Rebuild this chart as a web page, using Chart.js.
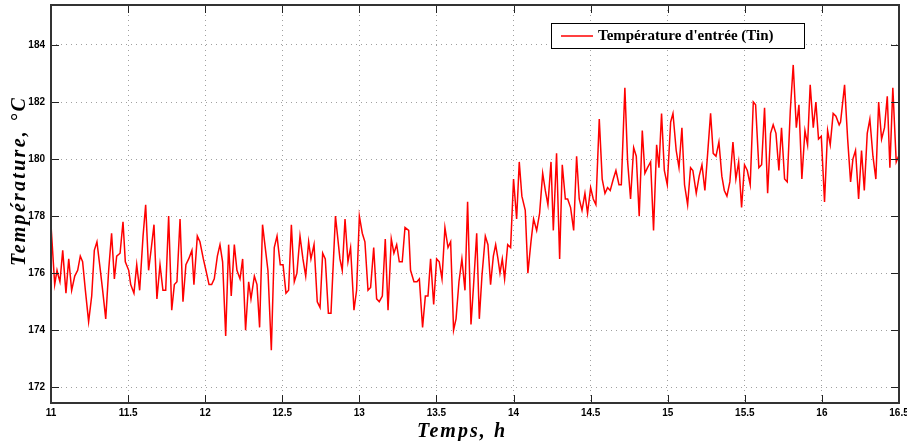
<!DOCTYPE html>
<html>
<head>
<meta charset="utf-8">
<script src="https://cdn.jsdelivr.net/npm/chart.js@4/dist/chart.umd.min.js"></script>
<style>
  html, body { margin: 0; padding: 0; background: #fff; }
  #box { width: 907px; height: 441px; }
</style>
</head>
<body>
<div id="box"><canvas id="graphe"></canvas></div>
<script>
// temps (h) et température d'entrée (°C)
const temps = [
  11.000, 11.024, 11.039, 11.048, 11.058, 11.076, 11.097, 11.115, 11.134, 11.154,
  11.173, 11.190, 11.205, 11.223, 11.244, 11.264, 11.281, 11.298, 11.320, 11.335,
  11.355, 11.374, 11.393, 11.411, 11.426, 11.448, 11.467, 11.482, 11.504, 11.517,
  11.538, 11.556, 11.575, 11.597, 11.614, 11.633, 11.651, 11.668, 11.687, 11.707,
  11.726, 11.744, 11.763, 11.783, 11.800, 11.817, 11.837, 11.856, 11.875, 11.893,
  11.914, 11.927, 11.949, 11.966, 11.988, 12.005, 12.025, 12.042, 12.059, 12.079,
  12.096, 12.113, 12.133, 12.152, 12.169, 12.189, 12.206, 12.226, 12.243, 12.262,
  12.282, 12.297, 12.319, 12.336, 12.353, 12.372, 12.407, 12.429, 12.448, 12.466,
  12.487, 12.505, 12.524, 12.541, 12.559, 12.578, 12.595, 12.615, 12.634, 12.652,
  12.671, 12.686, 12.706, 12.727, 12.745, 12.762, 12.779, 12.799, 12.816, 12.845,
  12.874, 12.889, 12.907, 12.926, 12.943, 12.965, 12.982, 13.000, 13.019, 13.036,
  13.056, 13.073, 13.093, 13.112, 13.129, 13.149, 13.168, 13.186, 13.207, 13.224,
  13.242, 13.259, 13.278, 13.296, 13.320, 13.332, 13.354, 13.374, 13.389, 13.410,
  13.428, 13.445, 13.462, 13.482, 13.501, 13.518, 13.536, 13.555, 13.575, 13.592,
  13.611, 13.627, 13.646, 13.665, 13.685, 13.702, 13.724, 13.741, 13.761, 13.778,
  13.795, 13.817, 13.834, 13.851, 13.869, 13.884, 13.899, 13.912, 13.927, 13.942,
  13.962, 13.981, 14.000, 14.020, 14.037, 14.054, 14.076, 14.093, 14.113, 14.130,
  14.150, 14.169, 14.189, 14.206, 14.223, 14.243, 14.258, 14.279, 14.299, 14.316,
  14.336, 14.351, 14.370, 14.390, 14.409, 14.426, 14.444, 14.463, 14.480, 14.500,
  14.517, 14.534, 14.556, 14.575, 14.593, 14.610, 14.627, 14.647, 14.664, 14.684,
  14.699, 14.722, 14.740, 14.759, 14.779, 14.796, 14.815, 14.835, 14.852, 14.869,
  14.889, 14.908, 14.928, 14.943, 14.960, 14.978, 14.997, 15.019, 15.034, 15.055,
  15.073, 15.092, 15.109, 15.129, 15.148, 15.163, 15.185, 15.204, 15.222, 15.241,
  15.259, 15.278, 15.295, 15.313, 15.332, 15.351, 15.367, 15.384, 15.403, 15.423,
  15.442, 15.460, 15.479, 15.498, 15.516, 15.535, 15.555, 15.570, 15.591, 15.609,
  15.628, 15.648, 15.667, 15.684, 15.702, 15.721, 15.738, 15.758, 15.775, 15.795,
  15.814, 15.834, 15.851, 15.870, 15.890, 15.907, 15.924, 15.944, 15.961, 15.978,
  15.996, 16.017, 16.037, 16.054, 16.073, 16.091, 16.112, 16.121, 16.147, 16.167,
  16.186, 16.201, 16.218, 16.238, 16.257, 16.275, 16.294, 16.311, 16.331, 16.350,
  16.368, 16.387, 16.406, 16.424, 16.441, 16.460, 16.482, 16.497
]
const tin = [
  177.7, 175.6, 176.1, 175.9, 175.7, 176.8, 175.3, 176.5, 175.4, 175.9,
  176.1, 176.6, 176.4, 175.4, 174.3, 175.2, 176.8, 177.1, 176.1, 175.4,
  174.4, 176.1, 177.4, 175.8, 176.6, 176.7, 177.8, 176.4, 176.1, 175.6,
  175.3, 176.3, 175.4, 177.3, 178.4, 176.1, 176.9, 177.7, 175.1, 176.3,
  175.4, 175.4, 178.0, 174.7, 175.6, 175.7, 177.9, 175.0, 176.3, 176.5,
  176.8, 175.6, 177.3, 177.1, 176.5, 176.1, 175.6, 175.6, 175.8, 176.6,
  177.0, 176.4, 173.8, 177.0, 175.2, 177.0, 176.1, 175.8, 176.5, 174.0,
  175.7, 175.1, 175.9, 175.6, 174.1, 177.7, 176.1, 173.3, 176.9, 177.3,
  176.3, 176.3, 175.3, 175.4, 177.7, 175.7, 176.0, 177.3, 176.5, 175.9,
  177.1, 176.5, 177.0, 175.0, 174.8, 176.7, 176.5, 174.6, 174.6, 178.0,
  176.5, 176.1, 177.9, 176.4, 176.9, 174.7, 175.4, 178.0, 177.4, 177.1,
  175.4, 175.5, 176.9, 175.1, 175.0, 175.2, 177.2, 174.7, 177.2, 176.7,
  177.0, 176.4, 176.4, 177.6, 177.5, 176.1, 175.7, 175.7, 175.8, 174.1,
  175.2, 175.2, 176.5, 174.9, 176.5, 176.4, 175.8, 177.6, 176.9, 177.1,
  174.0, 174.4, 175.7, 176.5, 175.4, 178.5, 174.2, 175.6, 177.4, 174.4,
  175.9, 177.3, 177.0, 175.6, 176.6, 177.0, 176.5, 176.0, 176.5, 175.8,
  177.0, 176.9, 179.3, 177.9, 179.9, 178.7, 178.2, 176.0, 177.1, 177.9,
  177.5, 178.1, 179.5, 178.9, 178.4, 179.9, 177.5, 180.2, 176.5, 179.8,
  178.6, 178.6, 178.3, 177.5, 180.1, 178.6, 178.2, 178.8, 178.1, 179.0,
  178.6, 178.4, 181.4, 179.3, 178.8, 179.0, 178.9, 179.3, 179.6, 179.1,
  179.1, 182.5, 179.9, 178.6, 180.4, 180.1, 178.0, 181.0, 179.5, 179.7,
  179.9, 177.5, 180.5, 179.7, 181.6, 179.6, 179.1, 181.3, 181.6, 180.3,
  179.7, 181.1, 179.1, 178.4, 179.7, 179.6, 178.8, 179.4, 179.8, 178.9,
  180.2, 181.6, 180.2, 180.1, 180.6, 179.4, 178.9, 178.7, 179.2, 180.6,
  179.3, 179.9, 178.3, 179.8, 179.6, 179.1, 182.0, 181.9, 179.7, 179.8,
  181.8, 178.8, 180.9, 181.2, 180.9, 179.6, 181.1, 179.3, 179.2, 181.7,
  183.3, 181.1, 181.9, 179.3, 181.0, 180.5, 182.6, 181.1, 182.0, 180.7,
  180.8, 178.5, 181.0, 180.5, 181.6, 181.5, 181.2, 181.3, 182.6, 180.7,
  179.2, 180.0, 180.3, 178.6, 180.3, 178.9, 180.9, 181.4, 180.1, 179.3,
  182.0, 180.7, 181.1, 182.2, 179.7, 182.5, 179.9, 180.1
]
const ticksX = [11, 11.5, 12, 12.5, 13, 13.5, 14, 14.5, 15, 15.5, 16, 16.5]
const ticksY = [172, 174, 176, 178, 180, 182, 184]
const titreX = 'Temps, h'
const titreY = 'Température, °C'

const points = temps.map((t, i) => ({x: t, y: tin[i]}))

// texte avec espacement des lettres réglé pour une largeur donnée
function texteEspace(c, txt, largeur) {
    c.letterSpacing = '0px'
    const w = c.measureText(txt).width
    const esp = Math.max(0, (largeur - w) / (txt.length - 1))
    c.letterSpacing = esp.toFixed(2) + 'px'
    c.fillText(txt, -largeur / 2, 0)
    c.letterSpacing = '0px'
}

// cadre complet, graduations vers l'intérieur, titres et légende
const cadre = {
    id: 'cadre',
    afterDraw(chart) {
        const c = chart.ctx
        const a = chart.chartArea
        const sx = chart.scales.x, sy = chart.scales.y
        c.save()
        c.strokeStyle = '#222'
        c.lineWidth = 1
        c.beginPath()
        ticksX.forEach(v => {
            const px = Math.round(sx.getPixelForValue(v)) + 0.5
            c.moveTo(px, a.bottom); c.lineTo(px, a.bottom - 8)
            c.moveTo(px, a.top); c.lineTo(px, a.top + 8)
        })
        ticksY.forEach(v => {
            const py = Math.round(sy.getPixelForValue(v)) + 0.5
            c.moveTo(a.left, py); c.lineTo(a.left + 8, py)
            c.moveTo(a.right, py); c.lineTo(a.right - 8, py)
        })
        c.stroke()
        c.strokeStyle = '#333'
        c.lineWidth = 2
        c.strokeRect(a.left, a.top, a.right - a.left, a.bottom - a.top)

        // titres des axes
        c.fillStyle = '#000'
        c.font = 'italic bold 20px "Liberation Serif"'
        c.textAlign = 'left'
        c.textBaseline = 'alphabetic'
        c.save()
        c.translate(461, 437)
        texteEspace(c, titreX, 88)
        c.restore()
        c.save()
        c.translate(25, 182)
        c.rotate(-Math.PI / 2)
        texteEspace(c, titreY, 168)
        c.restore()

        // légende
        const ds = chart.data.datasets[0]
        const lx = 551, ly = 23, lw = 253, lh = 25
        c.fillStyle = '#fff'
        c.fillRect(lx, ly, lw, lh)
        c.strokeStyle = '#000'
        c.lineWidth = 1
        c.strokeRect(lx + 0.5, ly + 0.5, lw, lh)
        c.strokeStyle = ds.borderColor
        c.lineWidth = 1.5
        c.beginPath()
        c.moveTo(lx + 10, ly + 13); c.lineTo(lx + 42, ly + 13)
        c.stroke()
        c.fillStyle = '#000'
        c.font = 'bold 15px "Liberation Serif"'
        c.textBaseline = 'middle'
        c.fillText(ds.label, lx + 47, ly + 13.5)
        c.restore()
    }
}

const ctx = document.getElementById('graphe')
let graphe = new Chart(ctx, {
    type: 'line',
    data: {
        datasets: [{
            label: "Température d'entrée (Tin)",
            data: points,
            borderColor: '#ff0000',
            borderWidth: 1.5,
            pointRadius: 0,
            tension: 0
        }]
    },
    options: {
        responsive: true,
        maintainAspectRatio: false,
        animation: false,
        layout: { padding: { top: 5, right: 8, left: 0, bottom: 0 } },
        plugins: { legend: { display: false }, tooltip: { enabled: false } },
        scales: {
            x: {
                type: 'linear',
                min: 11,
                max: 16.5,
                afterBuildTicks: (s) => { s.ticks = ticksX.map(v => ({value: v})) },
                afterFit: (s) => { s.height = 38; s.paddingLeft = 0; s.paddingRight = 0 },
                grid: { color: '#a0a0a0', drawTicks: false },
                border: { display: false, dash: [1, 4] },
                ticks: {
                    color: '#000',
                    padding: 4,
                    font: { family: 'Liberation Sans', weight: 'bold', size: 10 },
                    maxRotation: 0,
                    autoSkip: false,
                    callback: (v) => String(v)
                }
            },
            y: {
                min: 171.45,
                max: 185.4,
                afterBuildTicks: (s) => { s.ticks = ticksY.map(v => ({value: v})) },
                afterFit: (s) => { s.width = 51; s.paddingTop = 0; s.paddingBottom = 0 },
                grid: { color: '#a0a0a0', drawTicks: false },
                border: { display: false, dash: [1, 4] },
                ticks: {
                    color: '#000',
                    padding: 6,
                    font: { family: 'Liberation Sans', weight: 'bold', size: 10 }
                }
            }
        }
    },
    plugins: [cadre]
});
</script>
</body>
</html>
